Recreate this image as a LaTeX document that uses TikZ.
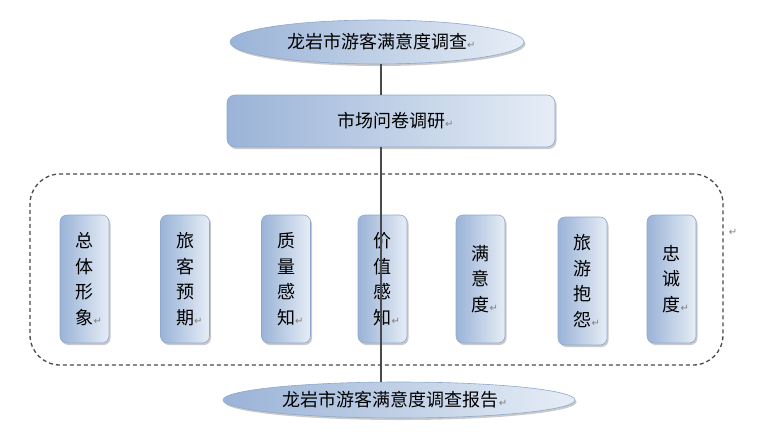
\documentclass[tikz,border=0pt]{standalone}
\usepackage{fontspec}
\setmainfont{Noto Sans CJK SC}
\newfontfamily\cjkfont{Noto Sans CJK SC}
\newfontfamily\symfont{DejaVu Sans}
\usetikzlibrary{shapes.geometric,shadows}
\definecolor{bdark}{HTML}{9AB3D7}
\definecolor{blight}{HTML}{E6EDF6}
\definecolor{bedge}{HTML}{8FA8CC}
\definecolor{lgray}{HTML}{4A4A4A}
\newcommand{\pmark}{\textcolor{gray}{\symfont\fontsize{10pt}{10pt}\selectfont ↵}}
\tikzset{
  fillshade/.style={left color=bdark, right color=blight, draw=bedge, line width=0.6pt,
    drop shadow={shadow xshift=1.5pt, shadow yshift=-2pt, opacity=0.35, fill=black!60}},
  txt/.style={font=\cjkfont\fontsize{18pt}{25.5pt}\selectfont, text=black},
  ell/.style={ellipse, fillshade, txt, inner sep=0pt},
  rbox/.style={rectangle, rounded corners=8pt, fillshade, txt, inner sep=0pt},
  vbox/.style={rectangle, rounded corners=7pt, fillshade, txt, inner sep=0pt,
    minimum width=49pt, minimum height=128pt, align=center},
  frame/.style={draw=lgray, line width=1.3pt, dash pattern=on 4pt off 3pt, rounded corners=30pt,
    inner sep=0pt},
  conn/.style={draw=lgray, line width=1.4pt}
}
\begin{document}
\begin{tikzpicture}[x=1pt,y=-1pt]
\useasboundingbox (0,0) rectangle (778,442);
\node[frame, minimum width=693pt, minimum height=191pt] (frm) at (376.5,269.5) {};
\node[ell, minimum width=294pt, minimum height=44pt] (top) at (377,42) {龙岩市游客满意度调查\rlap{\pmark}};
\node[rbox, minimum width=328pt, minimum height=52pt] (mkt) at (391,121) {市场问卷调研\rlap{\pmark}};
\node[vbox] (b1) at (84.5,279) {总\\体\\形\\象\rlap{\pmark}};
\node[vbox] (b2) at (185,279) {旅\\客\\预\\期\rlap{\pmark}};
\node[vbox] (b3) at (286,279) {质\\量\\感\\知\rlap{\pmark}};
\node[vbox] (b4) at (382.5,279) {价\\值\\感\\知\rlap{\pmark}};
\node[vbox] (b5) at (480.5,279) {满\\意\\度\rlap{\pmark}};
\node[vbox] (b6) at (582.5,281) {旅\\游\\抱\\怨\rlap{\pmark}};
\node[vbox] (b7) at (671.5,279) {忠\\诚\\度\rlap{\pmark}};
\node[ell, minimum width=352pt, minimum height=36pt] (bot) at (399,400) {龙岩市游客满意度调查报告\pmark\hspace*{8pt}};
\node (pm) at (733,232) {\pmark};
\coordinate (lx) at (381,0);
\draw[conn] (top.south -| lx) -- (mkt.north -| lx);
\draw[conn] (mkt.south -| lx) -- (bot.north -| lx);
\end{tikzpicture}
\end{document}
